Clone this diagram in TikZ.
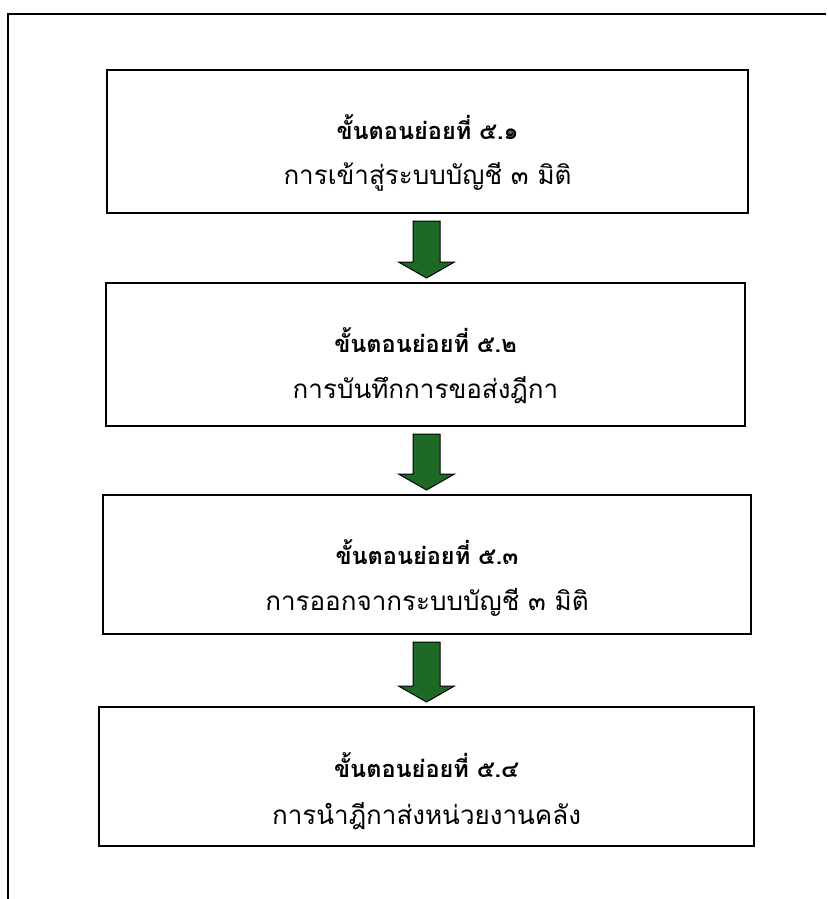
\documentclass[tikz,border=0pt]{standalone}
\usepackage{fontspec}
\newfontfamily\thaifont[Script=Thai]{Loma}
\usetikzlibrary{calc}
\definecolor{arrowgreen}{RGB}{30,105,38}
\tikzset{
  stepbox/.style={draw=black, line width=2pt, fill=white, inner sep=0pt},
  headtext/.style={font=\thaifont\bfseries\fontsize{23.5}{27}\selectfont, inner sep=0pt},
  bodytext/.style={font=\thaifont\fontsize{26}{29}\selectfont, inner sep=0pt},
  flowarrow/.style={draw=black, line width=1pt, fill=arrowgreen, line join=miter}
}
\newcommand{\greenarrow}[2]{%
  \draw[flowarrow] ($(#1.south -| ax)+(-13.5,7)$) -- ($(#1.south -| ax)+(13.5,7)$)
    -- ($(#2.north -| ax)+(13.5,-20)$) -- ($(#2.north -| ax)+(28,-20)$)
    -- ($(#2.north -| ax)+(0,-4)$) -- ($(#2.north -| ax)+(-28,-20)$)
    -- ($(#2.north -| ax)+(-13.5,-20)$) -- cycle;}
\begin{document}
\begin{tikzpicture}[x=1pt,y=-1pt]
\useasboundingbox (0,0) rectangle (827,899);
\fill[white] (0,0) rectangle (827,899);
% frame
\coordinate (ftr) at (826,14);
\coordinate (ftl) at (8,14);
\coordinate (fbl) at (8,899);
\draw[line width=2pt] (ftr) -- (ftl) -- (fbl);
\coordinate (ax) at (426.5,0);
% boxes
\node[stepbox, minimum width=641pt, minimum height=143pt] (b1) at (427.5,141.5) {};
\node[stepbox, minimum width=639pt, minimum height=143pt] (b2) at (425.5,354.5) {};
\node[stepbox, minimum width=648pt, minimum height=139pt] (b3) at (427,564.5) {};
\node[stepbox, minimum width=655pt, minimum height=139pt] (b4) at (426.5,776.5) {};
% texts
\node[headtext] (h1) at ($(b1.north)+(0,58)$) {ขั้นตอนย่อยที่ ๕.๑};
\node[bodytext] (t1) at ($(b1.north)+(0,108)$) {การเข้าสู่ระบบบัญชี ๓ มิติ};
\node[headtext] (h2) at ($(b2.north)+(0,58)$) {ขั้นตอนย่อยที่ ๕.๒};
\node[bodytext] (t2) at ($(b2.north)+(0,108)$) {การบันทึกการขอส่งฎีกา};
\node[headtext] (h3) at ($(b3.north)+(0,58)$) {ขั้นตอนย่อยที่ ๕.๓};
\node[bodytext] (t3) at ($(b3.north)+(0,108)$) {การออกจากระบบบัญชี ๓ มิติ};
\node[headtext] (h4) at ($(b4.north)+(0,59)$) {ขั้นตอนย่อยที่ ๕.๔};
\node[bodytext] (t4) at ($(b4.north)+(0,110)$) {การนำฎีกาส่งหน่วยงานคลัง};
% arrows
\greenarrow{b1}{b2}
\greenarrow{b2}{b3}
\greenarrow{b3}{b4}
\end{tikzpicture}
\end{document}
